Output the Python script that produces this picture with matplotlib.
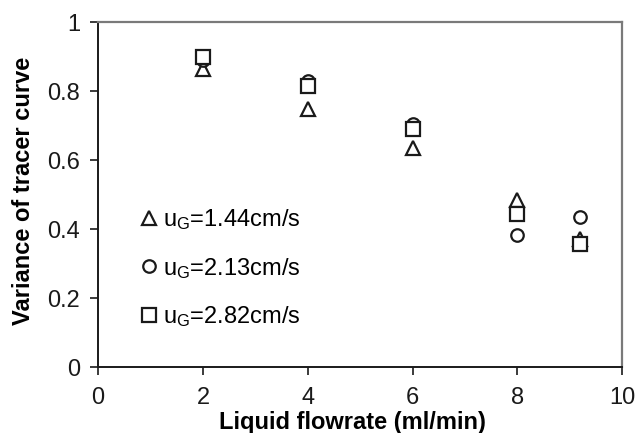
import numpy as np
import matplotlib
matplotlib.use("Agg")
from matplotlib import rcParams
rcParams["font.family"] = "Liberation Sans"
rcParams["mathtext.default"] = "regular"
import matplotlib.pyplot as plt

# liquid flowrate (ml/min)
flow = [2, 4, 6, 8, 9.2]

# variance of tracer curve for each superficial gas velocity
var_144 = [0.864, 0.749, 0.635, 0.485, 0.37]
var_213 = [0.89, 0.829, 0.704, 0.382, 0.434]
var_282 = [0.898, 0.816, 0.691, 0.443, 0.357]

labels = [
    r"u$_\mathregular{G}$=1.44cm/s",
    r"u$_\mathregular{G}$=2.13cm/s",
    r"u$_\mathregular{G}$=2.82cm/s",
]

if __name__ == "__main__":

    fig = plt.figure(figsize=(6.37, 4.33), dpi=100)
    ax = fig.add_axes([0.154, 0.152, 0.823, 0.797])

    style = dict(linestyle="none", markerfacecolor="white",
                 markeredgecolor="#1a1a1a", markeredgewidth=1.6)
    h1, = ax.plot(flow, var_144, "^", markersize=10, label=labels[0], **style)
    h2, = ax.plot(flow, var_213, "o", markersize=9, label=labels[1], **style)
    h3, = ax.plot(flow, var_282, "s", markersize=10.5, label=labels[2], **style)

    ax.set_xlim(0, 10)
    ax.set_ylim(0, 1)
    ax.set_xticks([0, 2, 4, 6, 8, 10])
    ax.set_yticks([0, 0.2, 0.4, 0.6, 0.8, 1])
    ax.set_yticklabels(["0", "0.2", "0.4", "0.6", "0.8", "1"])
    ax.tick_params(direction="out", length=6, width=1.2, labelsize=17,
                   colors="#1a1a1a")
    ax.tick_params(axis="x", pad=8)
    ax.tick_params(axis="y", pad=7)

    # Plot-area border: dark axes, grey top/right
    for side in ["left", "bottom"]:
        ax.spines[side].set_color("#1a1a1a")
        ax.spines[side].set_linewidth(1.4)
    for side in ["top", "right"]:
        ax.spines[side].set_color("#7a7a7a")
        ax.spines[side].set_linewidth(1.6)

    ax.set_xlabel("Liquid flowrate (ml/min)", fontsize=17, fontweight="bold")
    ax.xaxis.set_label_coords(0.486, -0.128)
    ax.set_ylabel("Variance of tracer curve", fontsize=17, fontweight="bold")
    ax.yaxis.set_label_coords(-0.12, 0.512)

    ax.legend(handles=[h1, h2, h3], loc="upper left",
              bbox_to_anchor=(0.061, 0.498), frameon=False, fontsize=17,
              handlelength=0.6, handletextpad=0.3, labelspacing=1.0,
              borderpad=0)

    plt.savefig("out.png", dpi=100)
